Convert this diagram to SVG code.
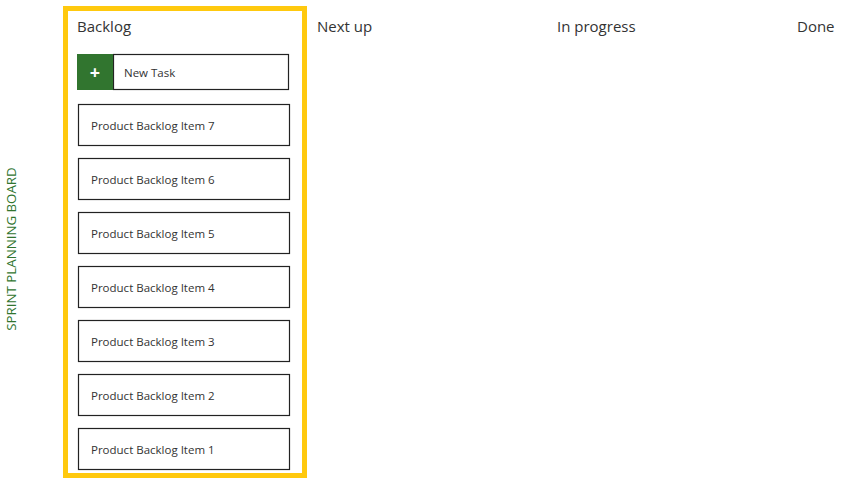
<svg xmlns="http://www.w3.org/2000/svg" width="849" height="478" viewBox="0 0 849 478">
<style>
text{font-family:"Segoe UI","Open Sans","Liberation Sans",sans-serif;fill:#333}
.h{font-size:15px}
.i{font-size:11.5px}
.box{fill:#fff;stroke:#222;stroke-width:1.2}
</style>
<rect width="849" height="478" fill="#fff"/>
<text x="11" y="249" transform="rotate(-90 11 249)" text-anchor="middle" dominant-baseline="central" style="font-size:13.3px;fill:#31752f">SPRINT PLANNING BOARD</text>
<rect x="65.5" y="8.5" width="239" height="467" fill="none" stroke="#ffc90e" stroke-width="5"/>
<text class="h" x="77" y="32">Backlog</text>
<text class="h" x="317" y="32">Next up</text>
<text class="h" x="557" y="32">In progress</text>
<text class="h" x="797" y="32">Done</text>
<g id="newtask">
<rect class="box" x="113.5" y="54.5" width="175" height="35"/>
<rect x="77" y="54" width="36" height="36" fill="#31752f"/>
<text x="95" y="72" text-anchor="middle" dominant-baseline="central" style="font-size:18px;font-weight:bold;fill:#fff">+</text>
<text class="i" x="124" y="76.5">New Task</text>
</g>
<g id="item7"><rect class="box" x="78.5" y="104.5" width="211" height="41"/><text class="i" x="91" y="130">Product Backlog Item 7</text></g>
<g id="item6"><rect class="box" x="78.5" y="158.5" width="211" height="41"/><text class="i" x="91" y="184">Product Backlog Item 6</text></g>
<g id="item5"><rect class="box" x="78.5" y="212.5" width="211" height="41"/><text class="i" x="91" y="238">Product Backlog Item 5</text></g>
<g id="item4"><rect class="box" x="78.5" y="266.5" width="211" height="41"/><text class="i" x="91" y="292">Product Backlog Item 4</text></g>
<g id="item3"><rect class="box" x="78.5" y="320.5" width="211" height="41"/><text class="i" x="91" y="346">Product Backlog Item 3</text></g>
<g id="item2"><rect class="box" x="78.5" y="374.5" width="211" height="41"/><text class="i" x="91" y="400">Product Backlog Item 2</text></g>
<g id="item1"><rect class="box" x="78.5" y="428.5" width="211" height="41"/><text class="i" x="91" y="454">Product Backlog Item 1</text></g>
<g id="connectors"/>
</svg>
